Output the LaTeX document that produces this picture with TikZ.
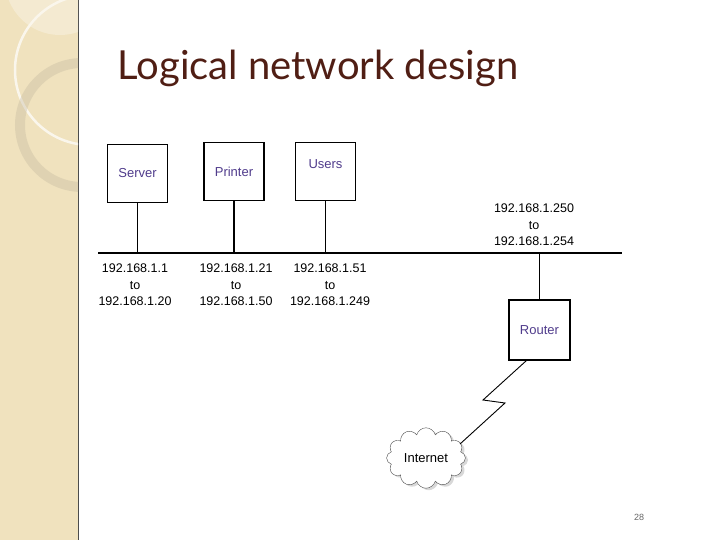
\documentclass[tikz,border=0pt]{standalone}
\usepackage{fontspec}
\setmainfont{Liberation Sans}
\newfontfamily\titlefont{Lato}
\usetikzlibrary{shapes.symbols,shadows}
\definecolor{beige}{RGB}{240,226,190}
\definecolor{tbrown}{RGB}{80,30,20}
\definecolor{lbl}{RGB}{80,60,140}
\begin{document}
\begin{tikzpicture}[x=1pt,y=-1pt,
 box/.style={draw,line width=1.3pt,minimum width=60pt,minimum height=58pt,font=\fontsize{13}{15}\selectfont,text=lbl},
 ip/.style={font=\fontsize{12.5}{16.5}\selectfont,align=center,inner sep=0pt},
 ln/.style={line width=1.6pt}]
\useasboundingbox (0,0) rectangle (720,540);
\fill[white] (0,0) rectangle (720,540);
\fill[beige] (0,0) rectangle (78,540);
\draw[black!70,line width=0.8pt] (78,0) -- (78,540);
\begin{scope}
\clip (0,0) rectangle (78,540);
\fill[white,opacity=0.3] (60,-20) circle (55);
\draw[white!70!beige,line width=2.5pt] (90,70) circle (75);
\draw[beige!80!black!90,line width=10pt,opacity=0.4] (82,125) circle (62);
\end{scope}
\node[anchor=west,font=\titlefont\fontsize{40}{44}\selectfont,text=tbrown] (title) at (114,68) {Logical network design};
\node[box] (server) at (137.5,173.5) {Server};
\node[box,anchor=center] (printer) at (234,171.5) {Printer};
\node[box,anchor=north] (users) at (325.5,142) {\raisebox{16pt}{Users}};
\coordinate (bl) at (98,253); \coordinate (br) at (622,253);
\draw[ln] (bl) -- (br);
\draw[ln] (server.south) -- (server.south |- bl);
\draw[ln] (printer.south) -- (printer.south |- bl);
\draw[ln] (users.south) -- (users.south |- bl);
\node[box,minimum width=61pt,minimum height=60pt] (router) at (539.5,330) {Router};
\draw[ln] (router.north) -- (router.north |- br);
\node[ip] (ip1) at (135,285) {192.168.1.1\\to\\192.168.1.20};
\node[ip] (ip2) at (236,285) {192.168.1.21\\to\\192.168.1.50};
\node[ip] (ip3) at (330,285) {192.168.1.51\\to\\192.168.1.249};
\node[ip] (ip4) at (534,225) {192.168.1.250\\to\\192.168.1.254};
\node[cloud,draw=black!70,cloud puffs=12,aspect=1.5,minimum width=76pt,minimum height=54pt,fill=white,drop shadow={opacity=0.3,shadow yshift=-2pt},font=\fontsize{13}{15}\selectfont] (inet) at (426,458) {Internet};
\draw[line width=0.9pt] (router.south west) ++(18,0) -- (483,400) -- (505,403) -- (460,444);
\node[font=\fontsize{9}{10}\selectfont,text=black!60] (pg) at (639,517) {28};
\end{tikzpicture}
\end{document}
